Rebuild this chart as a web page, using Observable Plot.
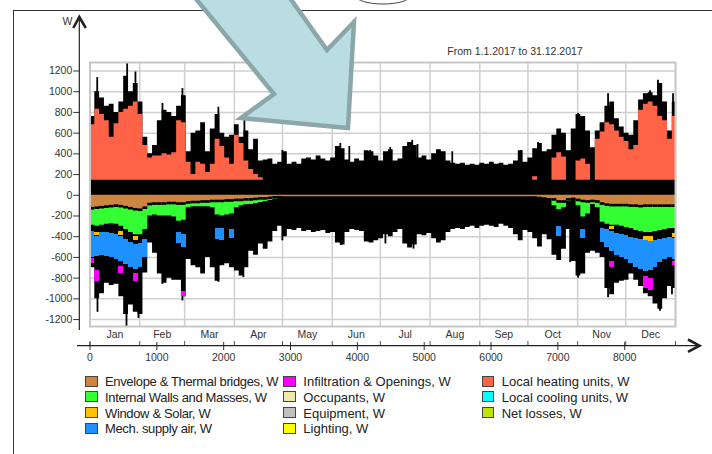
<!DOCTYPE html>
<html>
<head>
<meta charset="utf-8">
<script src="https://cdn.jsdelivr.net/npm/d3@7"></script>
<script src="https://cdn.jsdelivr.net/npm/@observablehq/plot@0.6"></script>
<style>
  body { margin: 0; background: #fff; font-family: Arial, "Liberation Sans", sans-serif; }
  #wrap { position: relative; width: 712px; height: 454px; overflow: hidden; background: #fff; }
  #border { position: absolute; left: 13px; top: 10px; width: 800px; height: 600px;
            border-left: 1.5px solid #333; border-top: 1.5px solid #333; }
  #chart { position: absolute; left: 0; top: 0; }
  #legend { position: absolute; left: 0; top: 0; }
  .li { position: absolute; height: 16px; line-height: 16px; font-size: 13px; white-space: nowrap; color: #222; }
  .sw { position: absolute; left: 0; top: 1.7px; width: 10.7px; height: 9px; border: 1px solid #444; }
  .lt { position: absolute; left: 20px; top: 0; }
  .c0 .lt { letter-spacing: -0.35px; }
  #overlay { position: absolute; left: 0; top: 0; pointer-events: none; }
</style>
</head>
<body>
<div id="wrap">
  <div id="border"></div>
  <div id="chart"></div>
  <div id="legend"></div>
  <svg id="overlay" width="712" height="454">
    <ellipse cx="383" cy="-4" rx="27" ry="8" fill="#fff" stroke="#444" stroke-width="1"></ellipse>
    <polygon points="192,-6 274,94 241,118 348,128 354,22 327,50 287,-6"
             fill="#b9dde1" stroke="#8ca7aa" stroke-width="4.5" stroke-linejoin="miter"></polygon>
  </svg>
</div>
<script>
// ---------- data (3-day steps, 72 h each) ----------
const STEP = 72;
const HOURS = 8760;

// upper edge of the black (hourly) envelope, W
const upper = [760,1000,940,860,880,800,900,1150,1000,1080,900,560,400,480,720,820,800,760,860,960,
  420,600,620,700,420,640,780,600,560,580,680,560,620,440,540,330,340,350,300,320,
  420,300,320,300,350,360,340,380,350,330,360,470,450,340,320,350,330,430,420,380,
  330,420,440,330,350,470,510,480,360,380,340,400,440,420,330,310,300,310,290,300,
  290,310,300,320,300,310,290,300,330,430,320,360,450,500,420,440,580,640,600,430,
  640,780,760,620,460,620,700,860,900,740,660,600,580,720,920,980,990,960,1080,900,620,900];

// lower edge of the black envelope, W
const lower = [-700,-1000,-950,-850,-870,-860,-980,-1150,-1060,-1130,-1150,-750,-460,-560,-760,-850,-800,-820,-820,-980,
  -620,-680,-700,-760,-600,-700,-830,-680,-660,-700,-730,-780,-700,-540,-580,-470,-520,-450,-350,-300,
  -400,-330,-340,-320,-350,-340,-360,-350,-340,-370,-360,-460,-480,-360,-330,-340,-350,-450,-460,-440,
  -420,-380,-400,-360,-330,-470,-510,-480,-380,-390,-370,-420,-460,-440,-360,-330,-320,-330,-310,-300,
  -320,-300,-290,-300,-310,-280,-300,-320,-380,-440,-340,-360,-420,-500,-380,-430,-580,-630,-520,-330,
  -640,-780,-760,-560,-540,-560,-600,-900,-960,-850,-830,-820,-760,-820,-880,-950,-980,-1050,-1100,-1000,-880,-900];

// single-hour peaks that stick out of the envelope: hour, W
const peakHour  = [108,556,680,1084,1383,1921,2310,2878,3745,3880,4193,4492,4821,4900,5195,5420,6451,6705,7303,7751,8379,8498,8723,
                   112,546,725,1084,1383,1921,2295,2878,3760,4420,4840,7184,7303,7751,8528,8707];
const peakValue = [1136,1277,1190,887,1030,850,723,433,500,470,433,460,530,490,433,420,433,510,790,980,1010,1110,980,
                   -1130,-1275,-1190,-860,-1020,-840,-795,-440,-485,-470,-520,-650,-800,-990,-1120,-960];

// top of Local heating units (0 = none), W
const heating = [680,830,780,720,560,690,800,830,860,900,780,480,360,380,380,400,390,410,720,700,
  320,200,320,300,220,300,540,470,360,300,580,500,330,250,200,170,0,0,0,0,
  0,0,0,0,0,0,0,0,0,0,0,0,0,0,0,0,0,0,0,0,
  0,0,0,0,0,0,0,0,0,0,0,0,0,0,0,0,0,0,0,0,
  0,0,0,0,0,0,0,0,0,0,0,0,180,0,0,0,360,410,370,0,
  0,330,350,300,0,540,610,700,680,620,560,520,440,480,820,880,900,860,760,720,540,760];
const heatingBase = 145;   // top of the internal gains band

// bottom of Envelope & Thermal bridges, W
const envelope = [-125,-120,-115,-110,-105,-100,-105,-115,-125,-135,-140,-120,-85,-80,-80,-80,-75,-75,-80,-80,
  -70,-65,-65,-60,-60,-55,-55,-55,-50,-50,-45,-45,-40,-40,-35,-30,-30,-25,-20,-20,
  -15,-15,-15,-15,-15,-15,-15,-15,-15,-15,-15,-15,-15,-15,-15,-15,-15,-15,-15,-15,
  -15,-15,-15,-15,-15,-15,-15,-15,-15,-15,-15,-15,-15,-15,-15,-15,-15,-15,-15,-15,
  -15,-15,-15,-15,-15,-15,-15,-15,-15,-15,-15,-15,-15,-20,-25,-30,-40,-60,-60,-40,
  -35,-45,-55,-60,-55,-60,-80,-90,-95,-95,-95,-95,-100,-100,-105,-100,-100,-100,-100,-100,-100,-100];

// bottom of Internal Walls and Masses, W
const walls = [-290,-300,-290,-280,-275,-280,-300,-330,-360,-380,-380,-330,-200,-190,-200,-200,-200,-210,-250,-240,
  -120,-110,-110,-110,-110,-120,-190,-200,-190,-180,-120,-100,-90,-90,-80,-70,-60,-50,-40,-30,
  -15,-15,-15,-15,-15,-15,-15,-15,-15,-15,-15,-15,-15,-15,-15,-15,-15,-15,-15,-15,
  -15,-15,-15,-15,-15,-15,-15,-15,-15,-15,-15,-15,-15,-15,-15,-15,-15,-15,-15,-15,
  -15,-15,-15,-15,-15,-15,-15,-15,-15,-15,-15,-15,-15,-20,-25,-30,-100,-140,-120,-60,
  -50,-100,-210,-180,-90,-120,-260,-280,-290,-290,-300,-310,-320,-340,-350,-360,-360,-350,-340,-330,-320,-320];

// Mech. supply air visible patches: step index, top, bottom (W)
const supplyStep = [0,1,2,3,4,5,6,7,8,9,10,11,18,19,26,27,29,97,102,106,107,108,109,110,111,112,113,114,115,116,117,118,119,120,121];
const supplyTop  = [-345,-400,-360,-360,-370,-380,-400,-430,-460,-480,-470,-430,-360,-380,-320,-320,-330,-300,-330,-320,-330,-350,-370,-380,-390,-410,-420,-430,-440,-450,-440,-430,-420,-410,-420];
const supplyBot  = [-600,-590,-580,-590,-600,-620,-640,-670,-700,-720,-700,-600,-470,-500,-430,-440,-420,-400,-420,-460,-500,-540,-580,-600,-620,-660,-700,-720,-740,-730,-700,-650,-620,-600,-620];

// Infiltration & Openings visible patches
const infilStep = [0,1,6,9,19,108,115,116,121];
const infilTop  = [-610,-730,-690,-760,-930,-640,-780,-800,-640];
const infilBot  = [-660,-830,-760,-830,-975,-700,-900,-920,-680];

// Window & Solar visible patches
const solarStep = [1,6,9,108,115,116,121];
const solarTop  = [-355,-345,-400,-305,-395,-400,-370];
const solarBot  = [-390,-385,-440,-335,-435,-445,-405];

const yTicks = [-1200,-1000,-800,-600,-400,-200,0,200,400,600,800,1000,1200];
const xTicks = [0,1000,2000,3000,4000,5000,6000,7000,8000];
const monthNames = ["Jan","Feb","Mar","Apr","May","Jun","Jul","Aug","Sep","Oct","Nov","Dec"];
const monthDays = [31,28,31,30,31,30,31,31,30,31,30,31];
const titleText = "From 1.1.2017 to 31.12.2017";

const legendNames = ["Envelope & Thermal bridges, W","Internal Walls and Masses, W","Window & Solar, W","Mech. supply air, W",
  "Infiltration & Openings, W","Occupants, W","Equipment, W","Lighting, W",
  "Local heating units, W","Local cooling units, W","Net losses, W"];
const legendColors = ["#cd853f","#33ff33","#ffc000","#1e90ff",
  "#ff00ff","#eee8aa","#c0c0c0","#ffff00",
  "#ff6347","#00ffff","#bbe600"];

// ---------- derived tables ----------
const rows = upper.map((u, k) => ({
  h: k * STEP, up: u, low: lower[k],
  heat: Math.max(heating[k], heatingBase),
  env: envelope[k], walls: walls[k]
}));
rows.push({...rows[rows.length - 1], h: HOURS});
const steps = rows.slice(0, -1).map(d => ({...d, h2: Math.min(d.h + STEP, HOURS)}));
const patch = (ks, t, b) => ks.map((k, i) => ({h1: k * STEP, h2: Math.min(k * STEP + STEP, HOURS), top: t[i], bot: b[i]}));
const supply = patch(supplyStep, supplyTop, supplyBot);
const infil = patch(infilStep, infilTop, infilBot);
const solar = patch(solarStep, solarTop, solarBot);
const peaks = peakHour.map((h, i) => ({h, v: peakValue[i]}));

const edges = [0];
monthDays.forEach(d => edges.push(edges[edges.length - 1] + d * 24));
const months = monthNames.map((m, i) => ({name: m, mid: (edges[i] + edges[i + 1]) / 2}));

// ---------- layout ----------
const W = 712, H = 366, ML = 89.5, MR = 37, MT = 62, MB = 40;
const FONT = 'Arial, "Liberation Sans", sans-serif';

function axisDecor() {
  const g = d3.create("svg:g").attr("stroke", "#222").attr("fill", "none");
  const ax = ML - 10.2;               // vertical axis position
  const ay = H - MB + 19.7;           // horizontal axis position
  g.append("line").attr("x1", ax).attr("x2", ax).attr("y1", 18).attr("y2", 330).attr("stroke-width", 1.2);
  g.append("polyline").attr("points", `${ax - 6},28 ${ax},17 ${ax + 6.5},28`).attr("stroke-width", 2.6);
  g.append("line").attr("x1", 77).attr("x2", 699).attr("y1", ay).attr("y2", ay).attr("stroke-width", 1.2);
  g.append("polyline").attr("points", `688,${ay - 6.2} 699.5,${ay} 688,${ay + 6.2}`).attr("stroke-width", 2.6);
  g.append("text").attr("x", ax - 7).attr("y", 24.5).attr("text-anchor", "end")
    .attr("stroke", "none").attr("fill", "#333").attr("font-size", 10.5).attr("font-family", FONT).text("W");
  return g.node();
}

const chart = Plot.plot({
  width: W, height: H, marginLeft: ML, marginRight: MR, marginTop: MT, marginBottom: MB,
  x: {domain: [0, HOURS]},
  y: {domain: [-1267, 1282]},
  style: {fontFamily: FONT, fontSize: "10.5px", color: "#333", background: "transparent", overflow: "visible"},
  marks: [
    Plot.ruleY(yTicks, {stroke: "#cfcfcf", strokeWidth: 1.5}),
    Plot.ruleX(edges, {stroke: "#cfcfcf", strokeWidth: 1.5}),
    Plot.areaY(rows, {x: "h", y1: "low", y2: "up", curve: "step-after", fill: "#000"}),
    Plot.ruleX(peaks, {x: "h", y1: 0, y2: "v", stroke: "#000", strokeWidth: 1.8}),
    Plot.areaY(rows, {x: "h", y1: heatingBase, y2: "heat", curve: "step-after", fill: "#ff6347"}),
    Plot.areaY(rows, {x: "h", y1: 0, y2: "env", curve: "step-after", fill: "#cd853f"}),
    Plot.areaY(rows, {x: "h", y1: "env", y2: "walls", curve: "step-after", fill: "#33ff33"}),
    Plot.ruleY(steps.filter(d => d.walls < d.env), {x1: "h", x2: "h2", y: "env", stroke: "#000", strokeWidth: 2.6}),
    Plot.rect(supply, {x1: "h1", x2: "h2", y1: "top", y2: "bot", fill: "#1e90ff", shapeRendering: "crispEdges"}),
    Plot.rect(infil, {x1: "h1", x2: "h2", y1: "top", y2: "bot", fill: "#ff00ff", shapeRendering: "crispEdges"}),
    Plot.rect(solar, {x1: "h1", x2: "h2", y1: "top", y2: "bot", fill: "#ffc000", shapeRendering: "crispEdges"}),
    Plot.frame({stroke: "#c8c8c8", strokeWidth: 2}),
    Plot.axisY({ticks: yTicks, anchor: "left", tickSize: 6, tickPadding: 1.5, dx: -10.2,
                tickFormat: d => String(d), fontSize: 10.5, stroke: "#333", fill: "#333"}),
    Plot.axisX({ticks: xTicks, anchor: "bottom", tickSize: 8, dy: 16, tickFormat: () => "", stroke: "#333"}),
    Plot.axisX({ticks: xTicks, anchor: "bottom", tickSize: 0, tickPadding: 11.5, dy: 16,
                tickFormat: d => String(d), fontSize: 10.5, fill: "#333"}),
    Plot.axisX({ticks: edges, anchor: "bottom", tickSize: 4, dy: 15, tickFormat: () => "", stroke: "#555"}),
    Plot.text(months, {x: "mid", text: "name", frameAnchor: "bottom", dy: 11.3, fontSize: 10.5, fill: "#333"}),
    Plot.text([titleText], {frameAnchor: "top-right", dx: -160.5, dy: -14.9, textAnchor: "middle", fontSize: 10.5, fill: "#333"}),
    axisDecor
  ]
});
document.getElementById("chart").appendChild(chart);

// ---------- legend ----------
const colX = [85, 283.3, 481.7];
const leg = d3.select("#legend");
legendNames.forEach((name, i) => {
  const c = Math.floor(i / 4), r = i % 4;
  const item = leg.append("div").attr("class", "li c" + c)
    .style("left", colX[c] + "px").style("top", (374 + r * 15.8) + "px");
  item.append("span").attr("class", "sw").style("background", legendColors[i]);
  item.append("span").attr("class", "lt").text(name);
});
</script>
</body>
</html>
